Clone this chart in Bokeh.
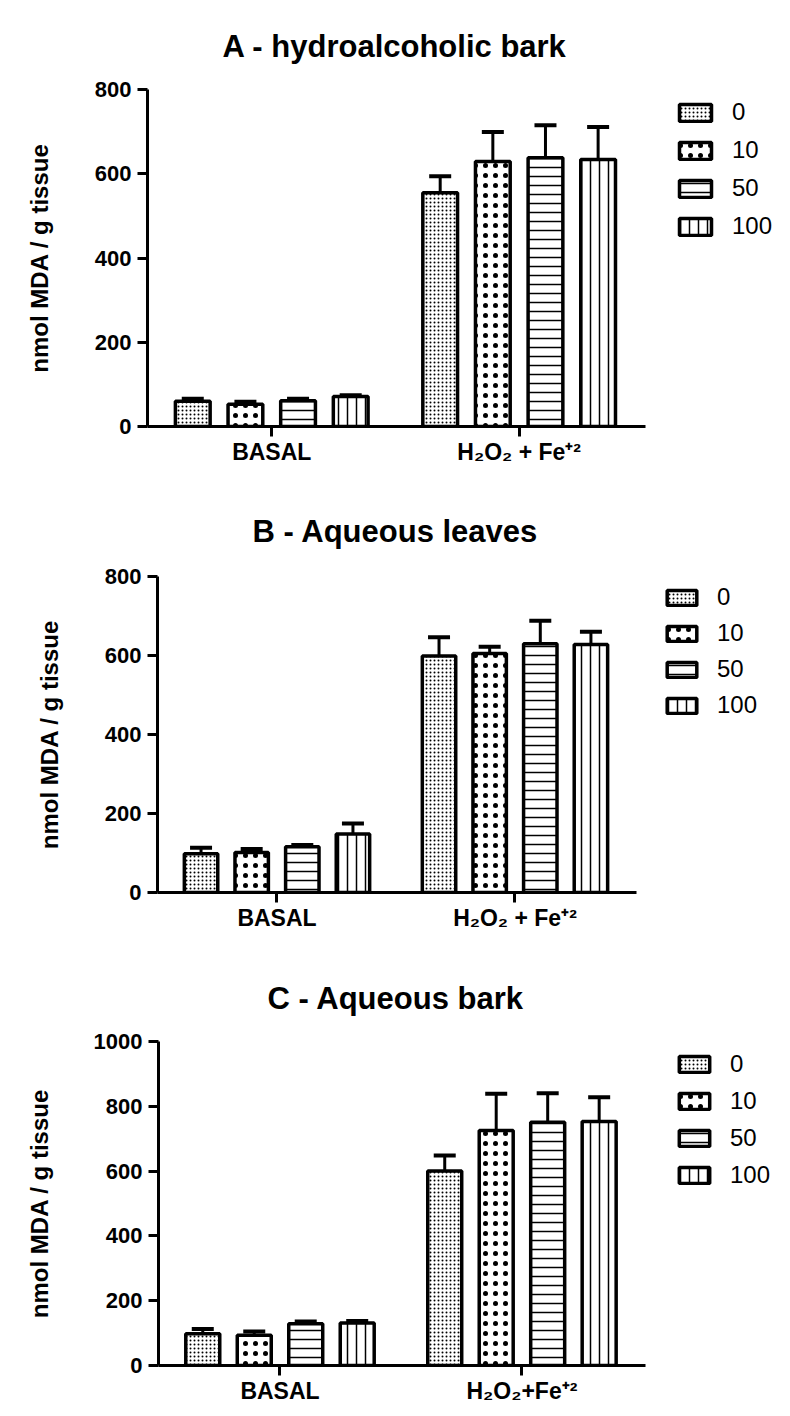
from bokeh.plotting import figure
from bokeh.models import (Range1d, FixedTicker, Whisker, TeeHead, ColumnDataSource,
                          Legend, LegendItem, Title)
from bokeh.layouts import column, row
from bokeh.embed import file_html
from bokeh.resources import INLINE

# ---------------- data ----------------
series = ["0", "10", "50", "100"]
group_labels_ab = ["BASAL", "H₂O₂ + Fe⁺²"]
group_labels_c = ["BASAL", "H₂O₂+Fe⁺²"]
titles = ["A - hydroalcoholic bark", "B - Aqueous leaves", "C - Aqueous bark"]
y_title = "nmol MDA / g tissue"

a_basal = [60, 53, 61, 71]
a_basal_err = [6, 6, 5, 3]
a_stress = [555, 629, 638, 634]
a_stress_err = [39, 70, 77, 77]

b_basal = [98, 101, 116, 148]
b_basal_err = [15, 9, 4, 27]
b_stress = [599, 605, 630, 628]
b_stress_err = [47, 17, 58, 32]

c_basal = [98, 93, 129, 131]
c_basal_err = [15, 12, 7, 6]
c_stress = [600, 725, 751, 753]
c_stress_err = [48, 114, 89, 75]

a_yticks = [0, 200, 400, 600, 800]
b_yticks = [0, 200, 400, 600, 800]
c_yticks = [0, 200, 400, 600, 800, 1000]

# ---------------- styling helpers ----------------
FONT = "Liberation Sans"
W = 790
group_centers = [0.0, 4.7]
offsets = [-1.5, -0.5, 0.5, 1.5]
X0, X1 = -2.36, 7.1  # extent of the drawn x axis


def hatch_kwargs(i):
    if i == 0:
        return dict(hatch_pattern="dot", hatch_scale=4, hatch_weight=2.5, hatch_color="black")
    if i == 1:
        return dict(hatch_pattern="dot", hatch_scale=10, hatch_weight=7, hatch_color="black")
    if i == 2:
        return dict(hatch_pattern="horizontal_line", hatch_scale=9, hatch_weight=1.5, hatch_color="black")
    return dict(hatch_pattern="vertical_line", hatch_scale=9, hatch_weight=1.5, hatch_color="black")


def panel(title, basal, basal_err, stress, stress_err, yticks, glabels,
          height, left, axis_len, mb_top, mb_bottom,
          title_offset, title_standoff, leg_loc, leg_gw, leg_gh, leg_spacing, ylab_standoff):
    # frame runs to the right edge so the legend is not clipped; the axis is bounded
    x_end = X0 + (X1 - X0) * (W - left) / axis_len
    p = figure(width=W, height=height, output_backend="svg", toolbar_location=None,
               x_range=Range1d(X0, x_end), y_range=Range1d(yticks[0], yticks[-1]),
               min_border_left=left, min_border_right=0,
               min_border_top=mb_top, min_border_bottom=mb_bottom)
    p.outline_line_color = None
    p.xgrid.visible = False
    p.ygrid.visible = False

    items = []
    for i, s in enumerate(series):
        xs = [g + offsets[i] for g in group_centers]
        tops = [basal[i], stress[i]]
        errs = [basal_err[i], stress_err[i]]
        src = ColumnDataSource(dict(x=xs, top=tops, upper=[t + e for t, e in zip(tops, errs)]))
        w = Whisker(base="x", lower="top", upper="upper", source=src, dimension="height",
                    line_width=3, line_color="black",
                    upper_head=TeeHead(size=22, line_width=4, line_color="black"),
                    lower_head=None)
        p.add_layout(w)
        r = p.vbar(x="x", top="top", bottom=0, width=0.66, source=src,
                   fill_color="white", line_color="black", line_width=3.5,
                   **hatch_kwargs(i))
        items.append(LegendItem(label=s, renderers=[r]))

    leg = Legend(items=items, location=leg_loc, orientation="vertical",
                 glyph_width=leg_gw, glyph_height=leg_gh, label_height=leg_gh,
                 label_standoff=17, spacing=leg_spacing, padding=0, margin=0,
                 border_line_color=None, background_fill_alpha=0,
                 label_text_font=FONT, label_text_font_size="24px",
                 label_text_color="black", label_text_baseline="middle")
    p.add_layout(leg)

    # y axis
    p.yaxis.ticker = FixedTicker(ticks=yticks)
    p.yaxis.minor_tick_line_color = None
    p.yaxis.major_tick_in = 0
    p.yaxis.major_tick_out = 10
    p.yaxis.major_tick_line_width = 3
    p.yaxis.axis_line_width = 3
    p.yaxis.major_label_standoff = 6
    p.yaxis.major_label_text_font = FONT
    p.yaxis.major_label_text_font_style = "bold"
    p.yaxis.major_label_text_font_size = "22px"
    p.yaxis.major_label_text_color = "black"
    p.yaxis.axis_label = y_title
    p.yaxis.axis_label_text_font = FONT
    p.yaxis.axis_label_text_font_style = "bold"
    p.yaxis.axis_label_text_font_size = "24px"
    p.yaxis.axis_label_text_color = "black"
    p.yaxis.axis_label_standoff = ylab_standoff

    # x axis
    p.xaxis.bounds = (X0, X1)
    p.xaxis.ticker = FixedTicker(ticks=group_centers)
    p.xaxis.major_label_overrides = {group_centers[0]: glabels[0], group_centers[1]: glabels[1]}
    p.xaxis.minor_tick_line_color = None
    p.xaxis.major_tick_in = 0
    p.xaxis.major_tick_out = 10
    p.xaxis.major_tick_line_width = 3
    p.xaxis.axis_line_width = 3
    p.xaxis.major_label_standoff = 2
    p.xaxis.major_label_text_font = FONT
    p.xaxis.major_label_text_font_style = "bold"
    p.xaxis.major_label_text_font_size = "23px"
    p.xaxis.major_label_text_color = "black"

    p.add_layout(Title(text=title, align="left", offset=title_offset, text_font=FONT,
                       text_font_style="bold", text_font_size="31px", text_color="black",
                       standoff=title_standoff), "above")
    return p


pa = panel(titles[0], a_basal, a_basal_err, a_stress, a_stress_err, a_yticks, group_labels_ab,
           470, 147, 498, 89, 44, 75, 52, (528, 186), 40, 21, 10, 39)
pb = panel(titles[1], b_basal, b_basal_err, b_stress, b_stress_err, b_yticks, group_labels_ab,
           468, 157, 479, 106, 46, 95, 56, (506, 173), 37, 19, 8, 39)
pc = panel(titles[2], c_basal, c_basal_err, c_stress, c_stress_err, c_yticks, group_labels_c,
           474, 158, 487, 103, 47, 109, 52, (517, 176), 38, 20, 9, 38)

layout = column(row(pa), row(pb), row(pc), spacing=0)
open("out.html", "w").write(file_html(layout, INLINE))
